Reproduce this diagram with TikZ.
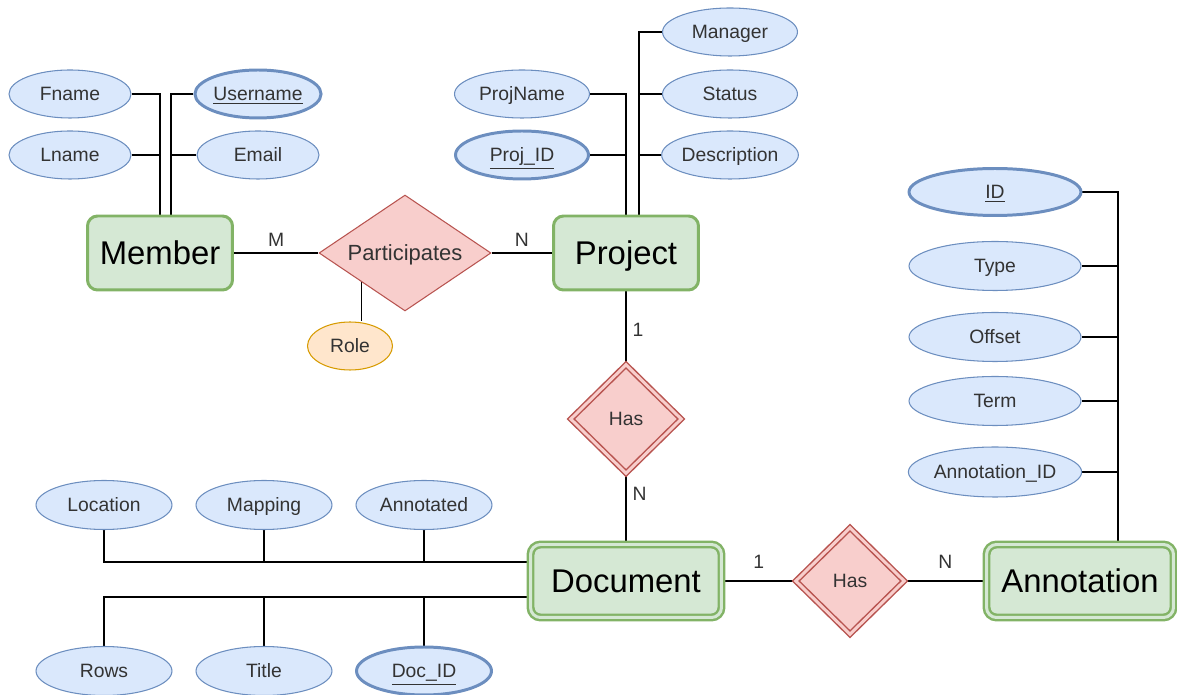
\documentclass[tikz,border=0pt]{standalone}
\usepackage{fontspec}
\setmainfont{Liberation Sans}
\usepackage{xcolor}
\usepackage{tikz}
\usetikzlibrary{shapes.geometric, positioning, calc, backgrounds}
\definecolor{attrfill}{HTML}{DAE8FC}
\definecolor{attrline}{HTML}{6C8EBF}
\definecolor{entfill}{HTML}{D5E8D4}
\definecolor{entline}{HTML}{82B366}
\definecolor{relfill}{HTML}{F8CECC}
\definecolor{relline}{HTML}{B85450}
\definecolor{rolefill}{HTML}{FFE6CC}
\definecolor{roleline}{HTML}{D79B00}
\definecolor{txtgray}{HTML}{333333}

\begin{document}
\begin{tikzpicture}[
    x=0.02cm, y=-0.02cm,
    every node/.style={font=\fontsize{11}{13}\selectfont, text=txtgray,
                       text height=9.9pt, text depth=2pt},
    attr/.style={ellipse, draw=attrline, fill=attrfill, line width=0.6pt, inner sep=0pt,
                 minimum width=2.44cm, minimum height=0.96cm},
    key/.style={attr, line width=1.7pt},
    entity/.style={draw=entline, fill=entfill, line width=1.7pt, rounded corners=0.2cm,
                   minimum width=2.9cm, minimum height=1.48cm, text=black,
                   font=\fontsize{18.7}{22}\selectfont, text height=16.8pt, text depth=3.4pt},
    weakent/.style={entity, line width=1.4pt, double=entfill, double distance=1.7pt,
                    minimum height=1.46cm},
    rel/.style={diamond, shape aspect=1.5, draw=relline, fill=relfill, line width=0.6pt,
                inner sep=0pt, minimum width=3.44cm, minimum height=2.32cm},
    weakrel/.style={rel, shape aspect=1, line width=0.85pt, double=relfill,
                    double distance=1.7pt, minimum width=2.22cm, minimum height=2.18cm},
    link/.style={line width=0.75pt, draw=black},
    card/.style={text=txtgray, text depth=0pt}
  ]
    \useasboundingbox (0,0) rectangle (1177,695);

    % Member and its attributes
    \node[attr] (fname) at (70,94) {Fname};
    \node[attr] (lname) at (70,155) {Lname};
    \node[key] (username) at (258,94) {\underline{Username}};
    \node[attr] (email) at (258,155) {Email};
    \node[entity] (member) at (160,253) {Member};

    \node[rel, font=\fontsize{12.5}{15}\selectfont, text height=11.25pt, text depth=2.25pt]
      (part) at (405,253) {Participates};
    \node[attr, draw=roleline, fill=rolefill, minimum width=1.7cm] (role) at (350,346) {Role};

    % Project and its attributes
    \node[attr, minimum width=2.7cm] (projname) at (522,94) {ProjName};
    \node[key, minimum width=2.66cm] (projid) at (522,155) {\underline{Proj\_ID}};
    \node[attr, minimum width=2.7cm] (manager) at (730,32) {Manager};
    \node[attr, minimum width=2.7cm] (status) at (730,94) {Status};
    \node[attr, minimum width=2.7cm] (descr) at (730,155) {Description};
    \node[entity] (project) at (626,253) {Project};

    \node[weakrel] (hasdoc) at (626,419) {Has};

    % Document and its attributes
    \node[weakent, minimum width=3.82cm] (document) at (626,581) {Document};
    \node[attr, minimum width=2.72cm, minimum height=0.98cm] (location) at (104,505) {Location};
    \node[attr, minimum width=2.72cm, minimum height=0.98cm] (mapping) at (264,505) {Mapping};
    \node[attr, minimum width=2.72cm, minimum height=0.98cm] (annotated) at (424,505) {Annotated};
    \node[attr, minimum width=2.72cm, minimum height=0.98cm] (rows) at (104,671) {Rows};
    \node[attr, minimum width=2.72cm, minimum height=0.98cm] (title) at (264,671) {Title};
    \node[key, minimum width=2.7cm, minimum height=0.96cm] (docid) at (424,671) {\underline{Doc\_ID}};

    \node[weakrel, minimum width=2.18cm, minimum height=2.14cm] (hasann) at (850,581) {Has};

    % Annotation and its attributes
    \node[weakent, minimum width=3.74cm] (annotation) at (1080,581) {Annotation};
    \node[key, minimum width=3.44cm, minimum height=0.94cm] (annid) at (995,192) {\underline{ID}};
    \node[attr, minimum width=3.44cm, minimum height=0.98cm] (type) at (995,266) {Type};
    \node[attr, minimum width=3.44cm, minimum height=0.98cm] (offset) at (995,337) {Offset};
    \node[attr, minimum width=3.44cm, minimum height=0.98cm] (term) at (995,401) {Term};
    \node[attr, minimum width=3.44cm, minimum height=1.0cm] (annotid) at (995,472) {Annotation\_ID};

    \begin{scope}[on background layer]
      \coordinate (memR) at ($(member.north)+(11,0)$);
      \coordinate (projR) at ($(project.north)+(13,0)$);
      \coordinate (annR) at ($(annotation.north)+(38,0)$);
      \coordinate (docT) at ($(document.west)+(0,-19)$);
      \coordinate (docB) at ($(document.west)+(0,16)$);

      \draw[link] (fname.east) -| (member.north);
      \draw[link] (lname.east) -- (lname.east -| member.north);
      \draw[link] (username.west) -| (memR);
      \draw[link] (email.west) -- (email.west -| memR);

      \draw[link] (projname.east) -| (project.north);
      \draw[link] (projid.east) -- (projid.east -| project.north);
      \draw[link] (manager.west) -| (projR);
      \draw[link] (status.west) -- (status.west -| projR);
      \draw[link] (descr.west) -- (descr.west -| projR);

      \draw[link] (annid.east) -| (annR);
      \foreach \a in {type, offset, term, annotid}
        \draw[link] (\a.east) -- (\a.east -| annR);

      \draw[link] (location.south) |- (docT);
      \draw[link] (mapping.south) -- (mapping.south |- docT);
      \draw[link] (annotated.south) -- (annotated.south |- docT);
      \draw[link] (rows.north) |- (docB);
      \draw[link] (title.north) -- (title.north |- docB);
      \draw[link] (docid.north) -- (docid.north |- docB);

      \draw[link] (part.south west) -- (part.south west |- role.north);

      % relationships with cardinalities
      \draw[link] (member) -- node[card, above] {M} (part);
      \draw[link] (part) -- node[card, above] {N} (project);
      \draw[link] (project) -- node[card, right] {1} (hasdoc);
      \draw[link] (hasdoc) -- node[card, right, pos=0.25] {N} (document);
      \draw[link] (document) -- node[card, above=0.12cm] {1} (hasann);
      \draw[link] (hasann) -- node[card, above=0.12cm] {N} (annotation);
    \end{scope}
  \end{tikzpicture}
\end{document}
